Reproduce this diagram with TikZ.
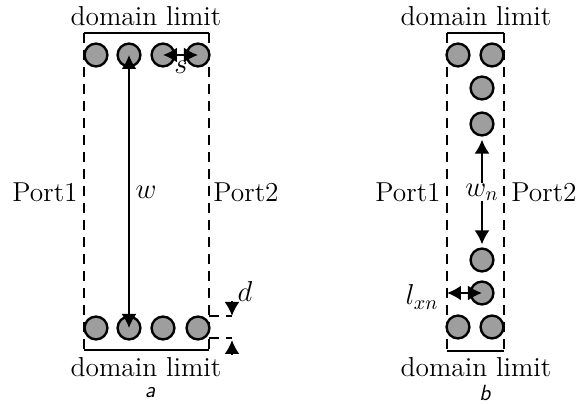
\documentclass[tikz,border=0pt]{standalone}
\usetikzlibrary{arrows.meta}
\tikzset{
    pipe/.style={draw=black,line width=1.2pt,fill=black!38,circle,minimum size=11.4pt,inner sep=0pt},
    limit/.style={line width=1.1pt},
    port/.style={line width=1.1pt,dash pattern=on 5pt off 3.5pt},
    dim/.style={line width=1pt,-{Latex[length=7pt,width=7.5pt]}},
    dimboth/.style={line width=1pt,{Latex[length=7pt,width=7.5pt]}-{Latex[length=7pt,width=7.5pt]}},
    lbl/.style={inner sep=0pt,font=\fontsize{13.7}{16}\selectfont},
    tag/.style={inner sep=0pt,font=\fontsize{11}{13}\sffamily\itshape\selectfont},
}
\begin{document}
\begin{tikzpicture}[x=0.5pt,y=-0.5pt]
    \useasboundingbox (0,0) rectangle (586,405);
    % left panel
    \coordinate (aTL) at (84,33);
    \coordinate (aTR) at (209,33);
    \coordinate (aBL) at (84,350);
    \coordinate (aBR) at (209,350);
    \draw [port] (aTL) -- (aBL);
    \draw [port] (aTR) -- (aBR);
    \draw [limit] (aTL) -- (aTR);
    \draw [limit] (aBL) -- (aBR);
    \path (96,55)   node[pipe] (a1) {};
    \path (129,55)  node[pipe] (a2) {};
    \path (163,55)  node[pipe] (a3) {};
    \path (198,55)  node[pipe] (a4) {};
    \path (96,328)  node[pipe] (a5) {};
    \path (129,328) node[pipe] (a6) {};
    \path (163,328) node[pipe] (a7) {};
    \path (198,328) node[pipe] (a8) {};
    \draw [dimboth] (a2.center) -- (a6.center);
    \draw [dimboth] (a3.center) -- (a4.center);
    \coordinate (d1) at (209,316);
    \coordinate (d2) at (209,338);
    \coordinate (d1e) at (232,316);
    \coordinate (d2e) at (232,340);
    \coordinate (d1s) at (232,301);
    \coordinate (d2s) at (232,355);
    \draw [port] (d1) -- (d1e);
    \draw [port] (d2) -- (d2e |- d2);
    \draw [dim] (d1s) -- (d1e);
    \draw [dim] (d2s) -- (d2e);
    \node[lbl] (alimt) at (146,16) {domain limit};
    \node[lbl] (alimb) at (146,367) {domain limit};
    \node[lbl] (ap1) at (45,192) {Port1};
    \node[lbl] (ap2) at (246,192) {Port2};
    \node[lbl] (aw) at (146,192) {$w$};
    \node[lbl] (as) at (181,67) {$s$};
    \node[lbl] (ad) at (245,292) {$d$};
    \node[tag] (atag) at (150,393) {a};
    % right panel
    \coordinate (bTL) at (447,33);
    \coordinate (bTR) at (504,33);
    \coordinate (bBL) at (447,351);
    \coordinate (bBR) at (504,351);
    \coordinate (bl) at (447,293);
    \draw [port] (bTL) -- (bBL);
    \draw [port] (bTR) -- (bBR);
    \draw [limit] (bTL) -- (bTR);
    \draw [limit] (bBL) -- (bBR);
    \path (458,55)  node[pipe] (b1) {};
    \path (492,55)  node[pipe] (b2) {};
    \path (482,88)  node[pipe] (b3) {};
    \path (482,124) node[pipe] (b4) {};
    \path (482,260) node[pipe] (b5) {};
    \path (482,293) node[pipe] (b6) {};
    \path (458,327) node[pipe] (b7) {};
    \path (492,327) node[pipe] (b8) {};
    \node[lbl] (bw) at (482,192) {$w_n$};
    \node[lbl] (bl2) at (422,297) {$l_{xn}$};
    \draw [dim,shorten >=1.5pt] (bw) -- (b4);
    \draw [dim,shorten >=1.5pt] (bw) -- (b5);
    \draw [dimboth] (b6.center) -- (bl);
    \node[lbl] (blimt) at (476,16) {domain limit};
    \node[lbl] (blimb) at (476,367) {domain limit};
    \node[lbl] (bp1) at (408,192) {Port1};
    \node[lbl] (bp2) at (544,192) {Port2};
    \node[tag] (btag) at (485,393) {b};
\end{tikzpicture}
\end{document}
